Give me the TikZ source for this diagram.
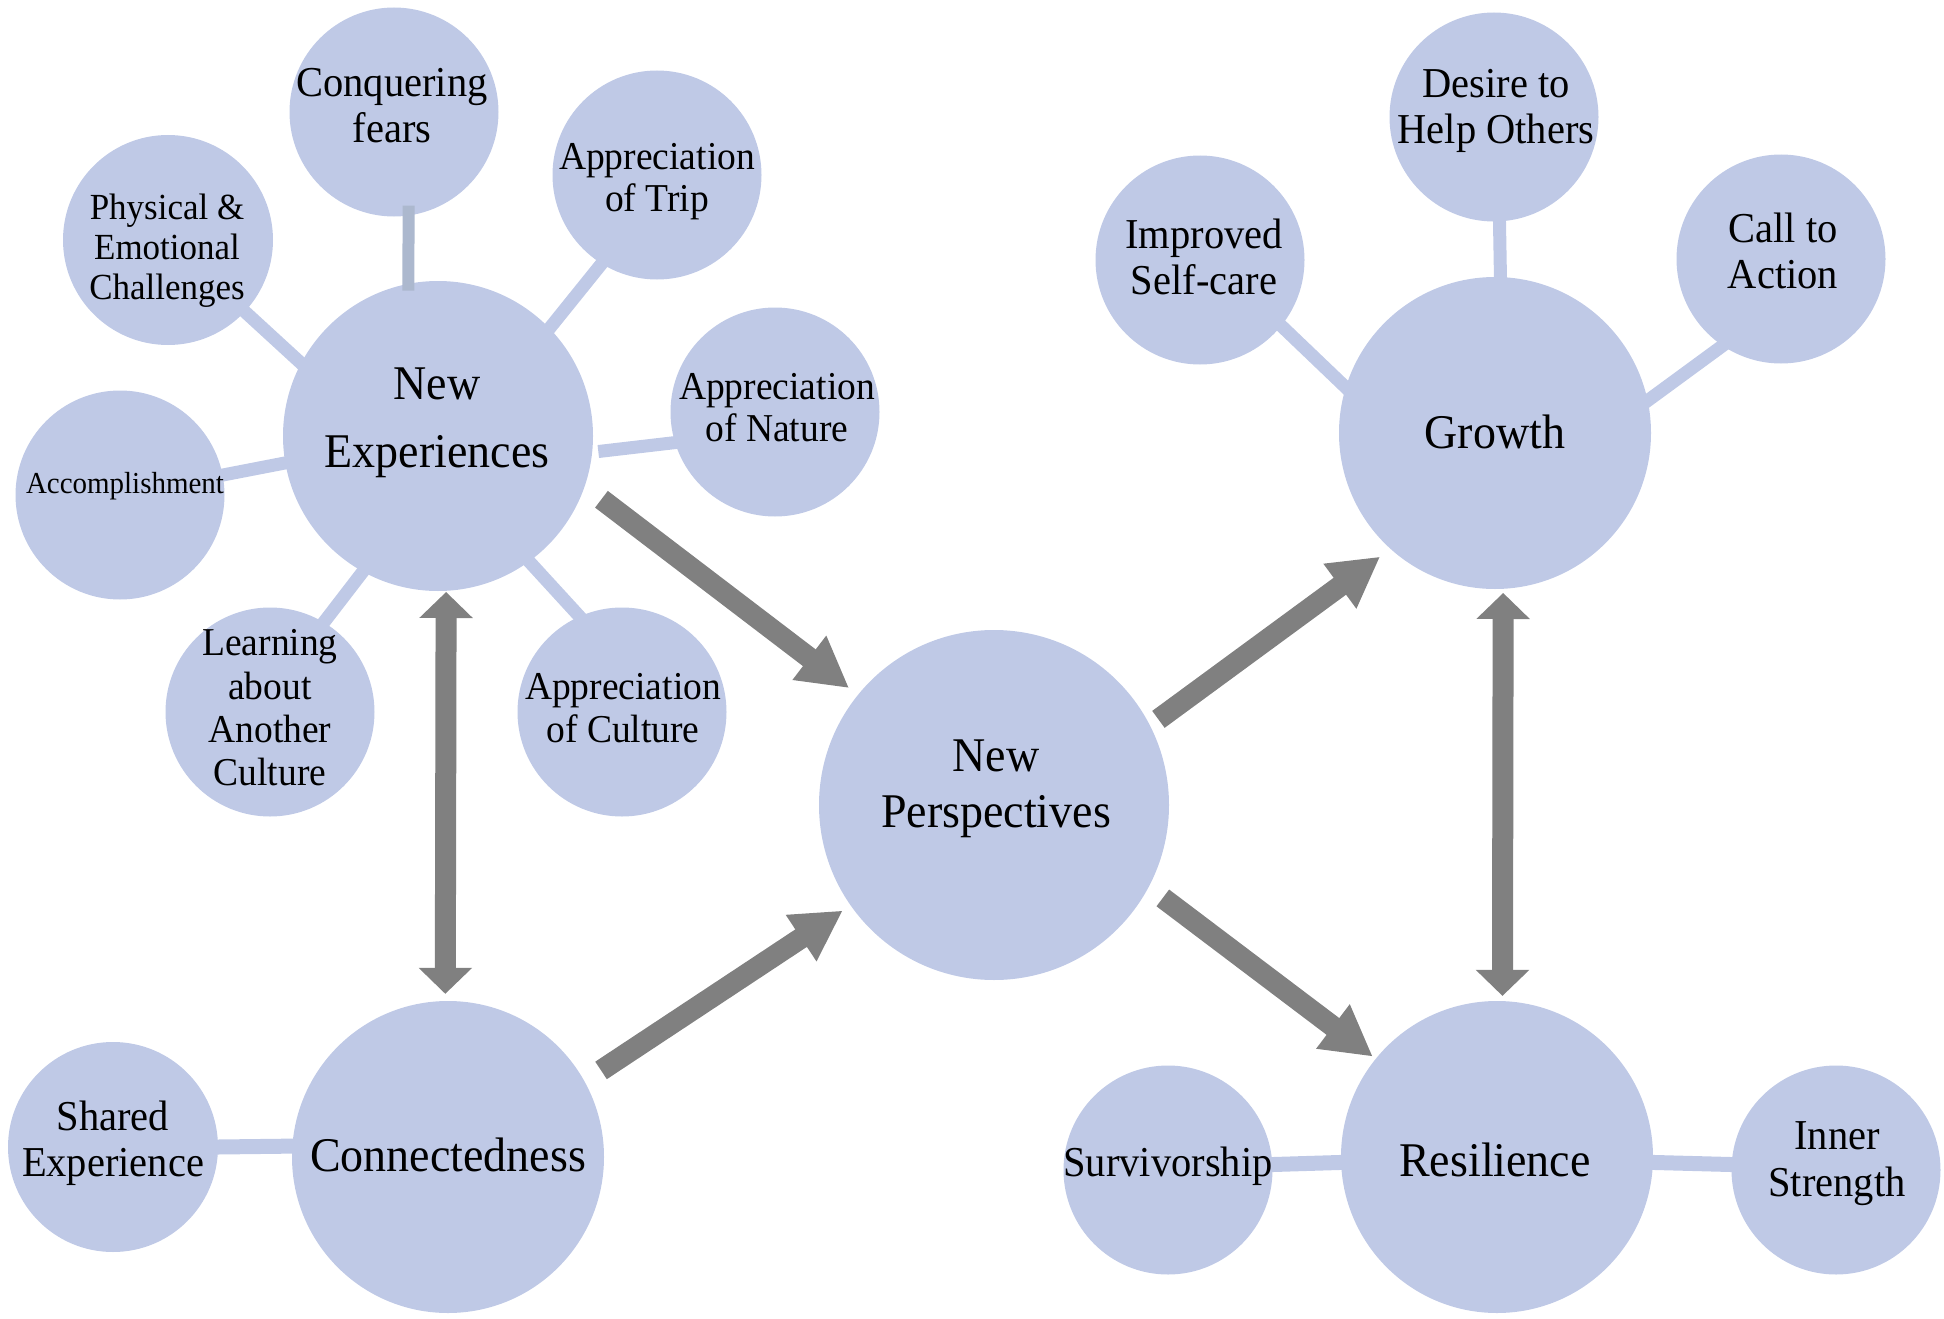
\documentclass[tikz,border=0pt]{standalone}
\usepackage{fontspec}
\setmainfont{Liberation Serif}[FakeStretch=0.95]
\usetikzlibrary{arrows.meta}
\definecolor{bub}{RGB}{191,201,230}
\definecolor{linkgray}{RGB}{172,184,206}
\definecolor{arr}{RGB}{128,128,128}
\begin{document}
\begin{tikzpicture}[x=1pt,y=-1pt,
  bubble/.style={circle,fill=bub,inner sep=0pt,minimum size=#1},
  lbl/.style={align=center,inner sep=0pt,text=black},
  sat/.style={lbl,font=\fontsize{42.6}{46}\selectfont},
  app/.style={lbl,font=\fontsize{39.5}{42}\selectfont},
  hub/.style={lbl,font=\fontsize{48.4}{56}\selectfont},
  link/.style={draw=bub,line width=13pt,shorten <=-4pt,shorten >=-4pt},
  widelink/.style={draw=bub,line width=15pt,shorten <=-4pt,shorten >=-4pt},
  diag/.style={draw=arr,line width=21pt,-{Triangle[length=50pt,width=52pt]}},
  vert/.style={draw=arr,line width=21pt,{Triangle[length=26pt,width=52pt]}-{Triangle[length=26pt,width=52pt]}},
]
\useasboundingbox (0,0) rectangle (1944,1319);

% bubbles
\node[bubble=310pt] (NE) at (438,436) {};
\node[bubble=209pt] (CF) at (394,112) {};
\node[bubble=210pt] (PEC) at (168,240) {};
\node[bubble=209pt] (AoT) at (657,175) {};
\node[bubble=209pt] (AoN) at (775,412) {};
\node[bubble=209pt] (Acc) at (120,495) {};
\node[bubble=209pt] (LaAC) at (270,712) {};
\node[bubble=209pt] (AoC) at (622,712) {};
\node[bubble=350pt] (NP) at (994,805) {};
\node[bubble=312pt] (Conn) at (448,1157) {};
\node[bubble=210pt] (SE) at (113,1147) {};
\node[bubble=312pt] (Gro) at (1495,433) {};
\node[bubble=209pt] (DtHO) at (1494,117) {};
\node[bubble=209pt] (ISC) at (1200,260) {};
\node[bubble=209pt] (CtA) at (1781,259) {};
\node[bubble=312pt] (Res) at (1497,1157) {};
\node[bubble=209pt] (Surv) at (1168,1170) {};
\node[bubble=209pt] (IS) at (1836,1170) {};

% links
\draw[link] (PEC.-43.4) -- (NE.152);
\draw[link] (AoT.-122.5) -- (NE.44);
\draw[link,shorten >=6pt] (AoN.197) -- (NE.-6);
\draw[link] (Acc.11.5) -- (NE.190.4);
\draw[link] (LaAC.59) -- (NE.241.3);
\draw[link] (AoC.114.1) -- (NE.-54);
\draw[draw=linkgray,line width=12pt,shorten <=-10pt,shorten >=-7pt] (CF.-82.8) -- (NE.101.5);
\draw[widelink] (SE.0) -- (Conn.176.7);
\draw[link] (ISC.-39.6) -- (Gro.163);
\draw[link] (DtHO.-87.8) -- (Gro.88.9);
\draw[link] (CtA.236.6) -- (Gro.12.7);
\draw[widelink] (Surv.3.9) -- (Res.182.2);
\draw[widelink] (Res.-2.9) -- (IS.177.2);

% arrows
\draw[diag,shorten <=21pt,shorten >=11pt] (NE.-19.3) -- (NP.141.7);
\draw[diag,shorten <=19.7pt,shorten >=9.2pt] (Conn.29.6) -- (NP.-145.6);
\draw[diag,shorten <=10.3pt,shorten >=12.8pt] (NP.27.2) -- (Gro.228.9);
\draw[diag,shorten <=17.7pt,shorten >=3.5pt] (NP.-28.4) -- (Res.141.6);
\draw[vert,shorten <=1pt,shorten >=7pt] (NE.-87.6) -- (Conn.91.3);
\draw[vert,shorten <=4pt,shorten >=5pt] (Gro.-87.8) -- (Res.88.5);

% labels
\node[hub,font=\fontsize{48.4}{68}\selectfont] (NEt) at (437,423) {New\\Experiences};
\node[sat] (CFt) at (392,106) {Conquering\\fears};
\node[lbl,font=\fontsize{36.8}{40}\selectfont] (PECt) at (167,251) {Physical \&\\Emotional\\Challenges};
\node[app] (AoTt) at (657,182) {Appreciation\\of Trip};
\node[app] (AoNt) at (777,408) {Appreciation\\of Nature};
\node[lbl,font=\fontsize{30.5}{34}\selectfont] (Acct) at (125,486) {Accomplishment};
\node[lbl,font=\fontsize{39.5}{43.4}\selectfont] (LaACt) at (270,708) {Learning\\about\\Another\\Culture};
\node[lbl,font=\fontsize{39.5}{43.4}\selectfont] (AoCt) at (623,708) {Appreciation\\of Culture};
\node[hub] (NPt) at (996,789) {New\\Perspectives};
\node[hub] (Connt) at (448,1155) {Connectedness};
\node[sat] (SEt) at (113,1143) {Shared\\Experience};
\node[hub] (Grot) at (1495,432) {Growth};
\node[sat] (DtHOt) at (1496,111) {Desire to\\Help Others};
\node[sat] (ISCt) at (1204,257) {Improved\\Self-care};
\node[sat] (CtAt) at (1783,251) {Call to\\Action};
\node[hub] (Rest) at (1495,1160) {Resilience};
\node[sat] (Survt) at (1168,1166) {Survivorship};
\node[sat,font=\fontsize{42.6}{47}\selectfont] (ISt) at (1837,1164) {Inner\\Strength};
\end{tikzpicture}
\end{document}
